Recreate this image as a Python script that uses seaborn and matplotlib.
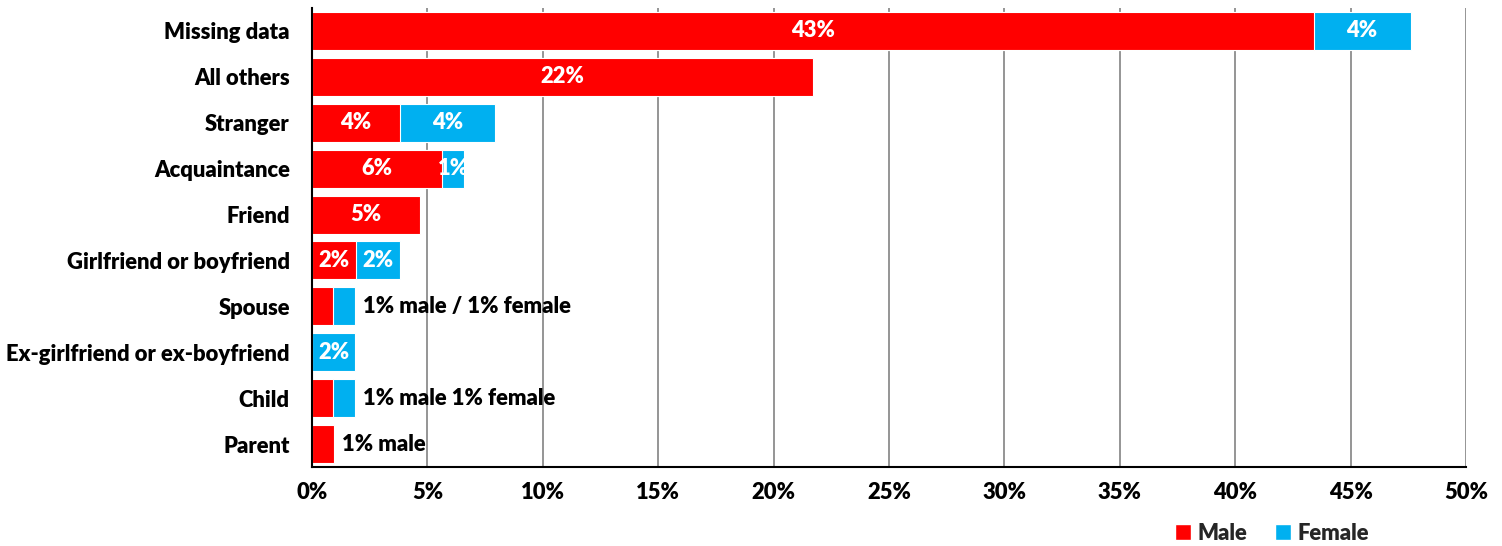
import matplotlib
matplotlib.use("Agg")
import matplotlib.pyplot as plt
from matplotlib.ticker import MultipleLocator, FixedLocator
from matplotlib.patches import Patch
import seaborn as sns
import pandas as pd
import numpy as np

categories = ["Missing data", "All others", "Stranger", "Acquaintance", "Friend",
              "Girlfriend or boyfriend", "Spouse", "Ex-girlfriend or ex-boyfriend",
              "Child", "Parent"]
male = [43.4, 21.7, 3.8, 5.65, 4.7, 1.9, 0.93, 0.0, 0.93, 0.95]
female = [4.2, 0.0, 4.15, 0.95, 0.0, 1.9, 0.93, 1.88, 0.93, 0.0]
male_labels = ["43%", "22%", "4%", "6%", "5%", "2%", "", "", "", ""]
female_labels = ["4%", "", "4%", "1%", "", "2%", "", "2%", "", ""]
side_notes = ["", "", "", "", "", "", "1% male / 1% female", "", "1% male 1% female", "1% male"]

RED = "#ff0000"
BLUE = "#00b0f0"
FS = 15.8

sns.set_style("white")
plt.rcParams["font.family"] = ["Lato", "DejaVu Sans"]
plt.rcParams["font.weight"] = "heavy"

df = pd.DataFrame({"category": categories, "male": male, "female": female})
df["total"] = df["male"] + df["female"]

fig = plt.figure(figsize=(15.02, 5.46), dpi=100)
ax = fig.add_axes([312 / 1502, 1 - 467 / 546, (1466 - 312) / 1502, (467 - 8) / 546])

# stacked bars: total in female colour, male drawn over it
sns.barplot(data=df, y="category", x="total", color=BLUE, orient="h", width=0.83,
            edgecolor="white", linewidth=0.8, saturation=1, ax=ax)
sns.barplot(data=df, y="category", x="male", color=RED, orient="h", width=0.83,
            edgecolor="white", linewidth=0.8, saturation=1, ax=ax)

ax.set_xlim(0, 50)
ax.set_ylim(len(categories) - 0.5, -0.5)
ax.xaxis.set_major_locator(MultipleLocator(5))
ax.set_xticklabels([f"{int(v)}%" for v in ax.get_xticks()])
ax.set_xlabel("")
ax.set_ylabel("")

ax.grid(axis="x", color="#8c8c8c", linewidth=1.3)
ax.set_axisbelow(True)
for s in ["top", "right"]:
    ax.spines[s].set_visible(False)
for s in ["left", "bottom"]:
    ax.spines[s].set_color("black")
    ax.spines[s].set_linewidth(1.5)

# category boundary ticks on the y axis
ax.yaxis.set_major_locator(FixedLocator(np.arange(-0.5, len(categories), 1)))
ax.yaxis.set_minor_locator(FixedLocator(np.arange(len(categories))))
ax.set_yticklabels([])
ax.set_yticklabels(categories, minor=True)
ax.tick_params(axis="y", which="major", direction="inout", length=12, width=1.5, color="black")
ax.tick_params(axis="y", which="minor", length=0, pad=16, labelsize=FS)
ax.tick_params(axis="x", which="major", direction="inout", length=12, width=1.5, color="black",
               labelsize=FS, pad=5)
for lab in ax.get_yticklabels(minor=True) + ax.get_xticklabels():
    lab.set_fontweight("heavy")
    lab.set_color("black")

for i in range(len(categories)):
    if male_labels[i]:
        ax.text(male[i] / 2, i, male_labels[i], ha="center", va="center",
                color="white", fontsize=FS, fontweight="heavy")
    if female_labels[i]:
        ax.text(male[i] + female[i] / 2, i, female_labels[i], ha="center", va="center",
                color="white", fontsize=FS, fontweight="heavy")
    if side_notes[i]:
        ax.text(male[i] + female[i] + 0.35, i, side_notes[i], ha="left", va="center",
                color="black", fontsize=FS, fontweight="heavy")

handles = [Patch(facecolor=RED, label="Male"), Patch(facecolor=BLUE, label="Female")]
fig.legend(handles=handles, loc="center", bbox_to_anchor=(1272 / 1502, 1 - 533 / 546),
           ncol=2, frameon=False, prop={"size": FS, "weight": "heavy"},
           handlelength=0.7, handleheight=0.7, handletextpad=0.3, columnspacing=1.3)

fig.savefig("out.png", dpi=100)
